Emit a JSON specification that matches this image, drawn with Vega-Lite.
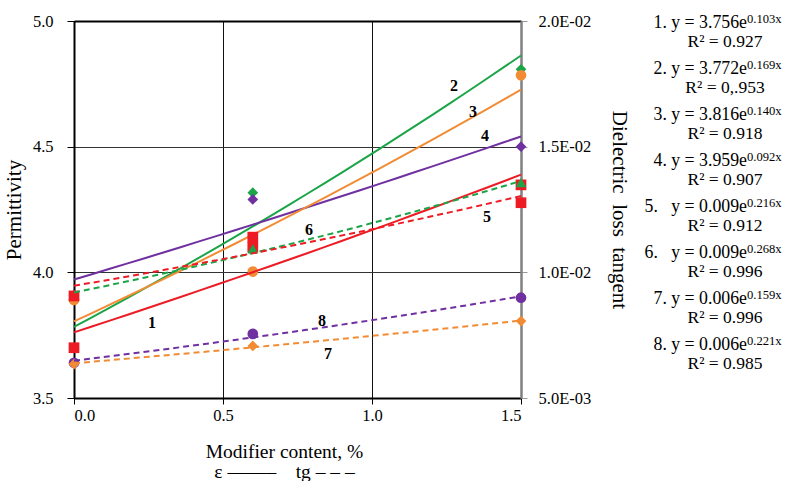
{
  "$schema": "https://vega.github.io/schema/vega-lite/v6.json",
  "background": "white",
  "padding": {"left": 3, "top": 13, "right": 0, "bottom": 0},
  "config": {
    "font": "Liberation Serif",
    "view": {"stroke": null},
    "style": {
      "guide-label": {"font": "Liberation Serif, serif", "fontSize": 16.5, "fill": "#000"},
      "guide-title": {"font": "Liberation Serif, serif", "fill": "#000"}
    },
    "axis": {
      "labelFont": "Liberation Serif, serif",
      "titleFont": "Liberation Serif, serif",
      "labelColor": "#000",
      "titleColor": "#000",
      "titleFontWeight": "normal",
      "labelFontSize": 16.5,
      "titleFontSize": 21
    },
    "text": {"font": "Liberation Serif", "color": "#000"}
  },
  "datasets": {
    "permittivity": [
      {"series": "2", "content": 0, "permittivity": 3.70},
      {"series": "2", "content": 0.6, "permittivity": 4.317},
      {"series": "2", "content": 1.5, "permittivity": 4.808},
      {"series": "4", "content": 0, "permittivity": 3.91},
      {"series": "4", "content": 0.6, "permittivity": 4.29},
      {"series": "4", "content": 1.5, "permittivity": 4.50},
      {"series": "3", "content": 0, "permittivity": 3.89},
      {"series": "3", "content": 0.6, "permittivity": 4.003},
      {"series": "3", "content": 1.5, "permittivity": 4.784},
      {"series": "1", "content": 0, "permittivity": 3.70},
      {"series": "1", "content": 0.6, "permittivity": 4.10},
      {"series": "1", "content": 1.5, "permittivity": 4.348}
    ],
    "tangent": [
      {"series": "8", "content": 0, "tangent": 0.0064},
      {"series": "8", "content": 0.6, "tangent": 0.00755},
      {"series": "8", "content": 1.5, "tangent": 0.00899},
      {"series": "7", "content": 0, "tangent": 0.00635},
      {"series": "7", "content": 0.6, "tangent": 0.00707},
      {"series": "7", "content": 1.5, "tangent": 0.00806},
      {"series": "6", "content": 0, "tangent": 0.0091},
      {"series": "6", "content": 0.6, "tangent": 0.01093},
      {"series": "6", "content": 1.5, "tangent": 0.01357},
      {"series": "5", "content": 0, "tangent": 0.00906},
      {"series": "5", "content": 0.6, "tangent": 0.0114},
      {"series": "5", "content": 1.5, "tangent": 0.01277}
    ],
    "epsLabels": [
      {"label": "1", "content": 0.262, "permittivity": 3.80},
      {"label": "2", "content": 1.275, "permittivity": 4.742},
      {"label": "3", "content": 1.339, "permittivity": 4.638},
      {"label": "4", "content": 1.379, "permittivity": 4.543}
    ],
    "tgLabels": [
      {"label": "5", "content": 1.386, "tangent": 0.01221},
      {"label": "6", "content": 0.789, "tangent": 0.01168},
      {"label": "7", "content": 0.852, "tangent": 0.00675},
      {"label": "8", "content": 0.832, "tangent": 0.00806}
    ],
    "equations": [
      {"series": 1, "base": "1. y = 3.756e", "power": "0.103x", "fit": "R² = 0.927"},
      {"series": 2, "base": "2. y = 3.772e", "power": "0.169x", "fit": "R² = 0,.953"},
      {"series": 3, "base": "3. y = 3.816e", "power": "0.140x", "fit": "R² = 0.918"},
      {"series": 4, "base": "4. y = 3.959e", "power": "0.092x", "fit": "R² = 0.907"},
      {"series": 5, "base": "5.\u00a0\u00a0 y = 0.009e", "power": "0.216x", "fit": "R² = 0.912"},
      {"series": 6, "base": "6.\u00a0\u00a0 y = 0.009e", "power": "0.268x", "fit": "R² = 0.996"},
      {"series": 7, "base": "7. y = 0.006e", "power": "0.159x", "fit": "R² = 0.996"},
      {"series": 8, "base": "8. y = 0.006e", "power": "0.221x", "fit": "R² = 0.985"}
    ]
  },
  "bounds": "flush",
  "spacing": 123,
  "hconcat": [
    {
      "width": 447,
      "height": 377,
      "layer": [
        {
          "data": {"name": "permittivity"},
          "layer": [
            {
              "mark": {"type": "point", "filled": true, "opacity": 1, "size": 115},
              "encoding": {
                "x": {
                  "field": "content", "type": "quantitative",
                  "scale": {"domain": [0, 1.5], "nice": false, "zero": false},
                  "axis": {
                    "values": [0, 0.5, 1, 1.5], "format": ".1f",
                    "labelFont": "Liberation Serif, serif", "labelFontSize": 16.5,
                    "grid": true, "gridColor": "#111", "gridWidth": 1, "gridOpacity": 1,
                    "domainColor": "#000", "domainWidth": 2,
                    "tickColor": "#000", "tickSize": 6, "labelPadding": 3,
                    "title": ["Modifier content, %", "ε\u00a0——–\u00a0\u00a0\u00a0\u00a0tg\u00a0–\u00a0–\u00a0–"],
                    "titleFont": "Liberation Serif, serif",
                    "titleFontSize": 19.5, "titleLineHeight": 19.5, "titlePadding": 19, "titleX": 210
                  }
                },
                "y": {
                  "field": "permittivity", "type": "quantitative",
                  "scale": {"domain": [3.5, 5], "nice": false, "zero": false},
                  "axis": {
                    "values": [3.5, 4, 4.5, 5], "format": ".1f",
                    "labelFont": "Liberation Serif, serif", "labelFontSize": 16.5,
                    "grid": true, "gridColor": "#333", "gridWidth": 1, "gridOpacity": 1,
                    "domainColor": "#000", "domainWidth": 2,
                    "tickColor": "#000", "tickSize": 7, "labelPadding": 14,
                    "title": "Permittivity", "titleFont": "Liberation Serif, serif", "titlePadding": 8
                  }
                },
                "color": {
                  "field": "series", "type": "nominal", "legend": null,
                  "scale": {
                    "domain": ["1", "2", "3", "4", "5", "6", "7", "8"],
                    "range": ["#ED1C24", "#1BA548", "#F28C34", "#7030A0", "#ED1C24", "#1BA548", "#F28C34", "#7030A0"]
                  }
                },
                "shape": {
                  "field": "series", "type": "nominal", "legend": null,
                  "scale": {
                    "domain": ["1", "2", "3", "4", "5", "6", "7", "8"],
                    "range": ["square", "diamond", "circle", "diamond", "square", "triangle-up", "diamond", "circle"]
                  }
                }
              }
            },
            {
              "transform": [
                {"regression": "permittivity", "on": "content", "groupby": ["series"], "method": "exp", "extent": [0, 1.5]}
              ],
              "mark": {"type": "line", "strokeWidth": 2},
              "encoding": {
                "x": {"field": "content", "type": "quantitative"},
                "y": {"field": "permittivity", "type": "quantitative"},
                "color": {"field": "series", "type": "nominal"}
              }
            },
            {
              "data": {"name": "epsLabels"},
              "mark": {"type": "text", "fontWeight": "bold", "fontSize": 16},
              "encoding": {
                "x": {"field": "content", "type": "quantitative"},
                "y": {"field": "permittivity", "type": "quantitative"},
                "text": {"field": "label"}
              }
            }
          ]
        },
        {
          "data": {"name": "tangent"},
          "layer": [
            {
              "mark": {"type": "point", "filled": true, "opacity": 1, "size": 115},
              "encoding": {
                "x": {
                  "field": "content", "type": "quantitative",
                  "axis": {
                    "orient": "top", "labels": false, "ticks": false, "grid": false,
                    "domainColor": "#000", "domainWidth": 2, "title": null
                  }
                },
                "y": {
                  "field": "tangent", "type": "quantitative",
                  "scale": {"domain": [0.005, 0.02], "nice": false, "zero": false},
                  "axis": {
                    "orient": "right",
                    "values": [0.005, 0.01, 0.015, 0.02],
                    "labelExpr": "replace(format(datum.value, '.1e'), 'e-', 'E-0')",
                    "labelFont": "Liberation Serif, serif", "labelFontSize": 16.5,
                    "grid": false,
                    "domainColor": "#808080", "domainWidth": 2.5,
                    "tickColor": "#999", "tickSize": 6, "labelPadding": 11,
                    "title": "Dielectric\u00a0 loss\u00a0 tangent", "titleFont": "Liberation Serif, serif", "titlePadding": 18
                  }
                },
                "color": {"field": "series", "type": "nominal"},
                "shape": {"field": "series", "type": "nominal"}
              }
            },
            {
              "transform": [
                {"regression": "tangent", "on": "content", "groupby": ["series"], "method": "exp", "extent": [0, 1.5]}
              ],
              "mark": {"type": "line", "strokeWidth": 2, "strokeDash": [6, 4]},
              "encoding": {
                "x": {"field": "content", "type": "quantitative"},
                "y": {"field": "tangent", "type": "quantitative"},
                "color": {"field": "series", "type": "nominal"}
              }
            },
            {
              "data": {"name": "tgLabels"},
              "mark": {"type": "text", "fontWeight": "bold", "fontSize": 16},
              "encoding": {
                "x": {"field": "content", "type": "quantitative"},
                "y": {"field": "tangent", "type": "quantitative"},
                "text": {"field": "label"}
              }
            }
          ]
        }
      ],
      "resolve": {"scale": {"y": "independent"}, "axis": {"x": "independent"}}
    },
    {
      "width": 140,
      "height": 377,
      "data": {"name": "equations"},
      "encoding": {
        "y": {
          "field": "series", "type": "quantitative",
          "scale": {"domain": [0.75, 8.946], "reverse": true, "nice": false, "zero": false},
          "axis": null
        }
      },
      "layer": [
        {
          "mark": {"type": "text", "align": "right", "baseline": "middle", "dx": 33, "dy": -9.5, "fontSize": 17.8},
          "encoding": {"text": {"field": "base"}}
        },
        {
          "mark": {"type": "text", "align": "left", "baseline": "middle", "dx": 33, "dy": -13, "fontSize": 12.6},
          "encoding": {"text": {"field": "power"}}
        },
        {
          "mark": {"type": "text", "align": "center", "baseline": "middle", "dx": 11, "dy": 9.5, "fontSize": 17.5},
          "encoding": {"text": {"field": "fit"}}
        }
      ]
    }
  ]
}
